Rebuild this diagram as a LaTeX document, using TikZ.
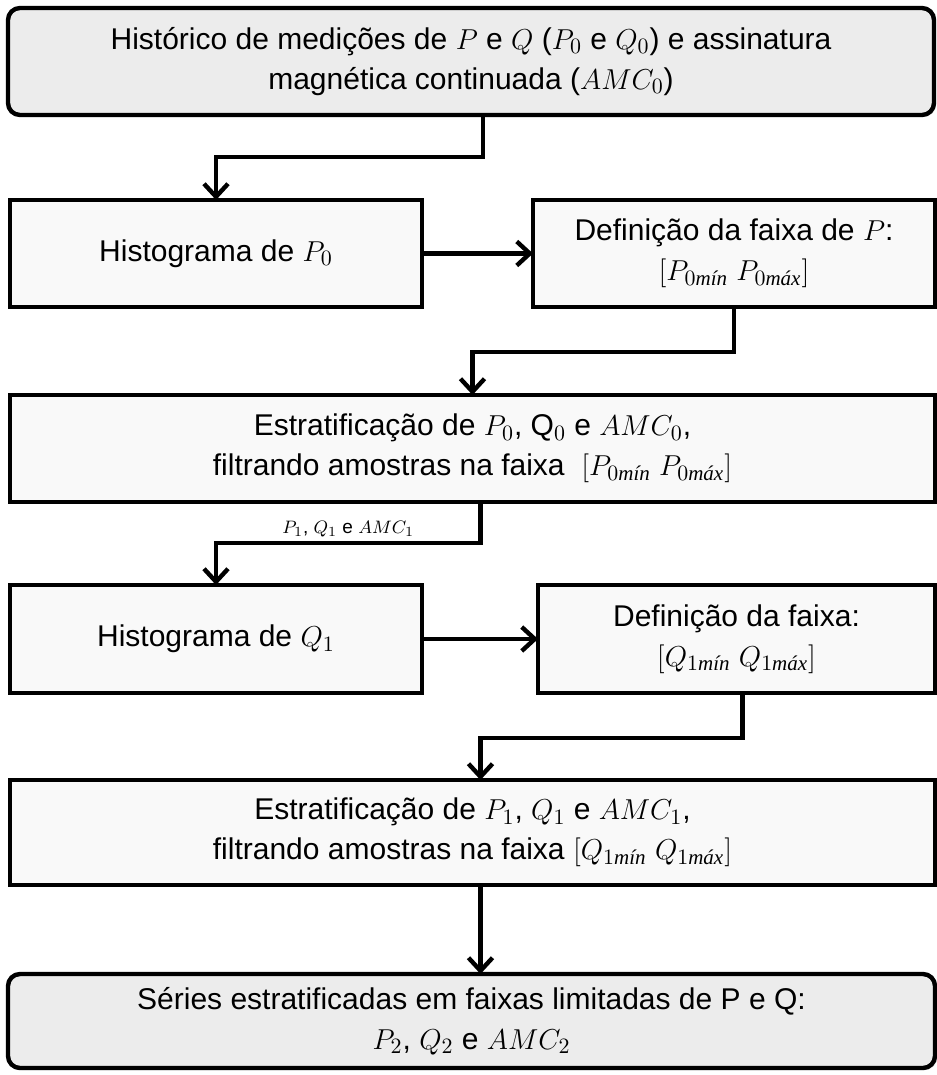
\documentclass[tikz,border=0pt]{standalone}
\usepackage{amsmath}
\usepackage{fontspec}
\setmainfont{Liberation Sans}
\newfontfamily\subfont{Liberation Serif}
\newcommand{\minsub}{\text{\subfont\itshape mín}}
\newcommand{\maxsub}{\text{\subfont\itshape máx}}
\usetikzlibrary{arrows.meta,positioning,shadows}

\begin{document}
\begin{tikzpicture}[
  x=1pt, y=1pt,
  font=\fontsize{15}{20}\selectfont,
  endbox/.style={draw, line width=2.2pt, rounded corners=6pt, fill=gray!15, align=center, inner sep=0pt, outer sep=0pt, minimum height=53.5pt, drop shadow={shadow xshift=1pt, shadow yshift=-1pt, opacity=0.2}},
  stepbox/.style={draw, line width=2.2pt, fill=gray!5, align=center, inner sep=0pt, outer sep=0pt, minimum height=53.5pt, drop shadow={shadow xshift=1pt, shadow yshift=-1pt, opacity=0.2}},
  arrow/.style={-{Straight Barb[length=6.5pt, width=12pt]}, line width=2.2pt},
  lbl/.style={font=\fontsize{9.5}{11}\selectfont, inner sep=2pt}
]
\useasboundingbox (0,0) rectangle (468,-537.5);

\node[endbox, minimum width=463pt] (history) at (235.5,-30.75) {Histórico de medições de $P$ e $Q$ ($P_0$ e $Q_0$) e assinatura\\magnética continuada ($AMC_0$)};
\node[stepbox, minimum width=206pt, below right=42.5pt and 1pt of history.south west] (histP) {Histograma de $P_0$};
\node[stepbox, minimum width=201pt, right=55.5pt of histP] (faixaP) {Definição da faixa de $P$:\\$[P_{0\minsub}\ P_{0\maxsub}]$};
\node[stepbox, minimum width=462.5pt, below right=44pt and 0pt of histP.south west] (estratP) {Estratificação de $P_0$, $\mathrm{Q}_0$ e $AMC_0$,\\filtrando amostras na faixa \ $[P_{0\minsub}\ P_{0\maxsub}]$};
\node[stepbox, minimum width=206pt, minimum height=54pt, below right=41.5pt and 0pt of estratP.south west] (histQ) {Histograma de $Q_1$};
\node[stepbox, minimum width=198.5pt, minimum height=54pt, right=58pt of histQ] (faixaQ) {Definição da faixa:\\$[Q_{1\minsub}\ Q_{1\maxsub}]$};
\node[stepbox, minimum width=462.5pt, minimum height=52.5pt, below right=43.5pt and 0pt of histQ.south west] (estratQ) {Estratificação de $P_1$, $Q_1$ e $AMC_1$,\\filtrando amostras na faixa $[Q_{1\minsub}\ Q_{1\maxsub}]$};
\node[endbox, minimum width=463.5pt, minimum height=47pt, below right=44.5pt and -1pt of estratQ.south west] (series) {Séries estratificadas em faixas limitadas de P e Q:\\$P_2$, $Q_2$ e $AMC_2$};

\draw[arrow] ([xshift=6pt]history.south) -- ++(0,-21pt) -| (histP.north);
\draw[arrow] (histP) -- (faixaP);
\draw[arrow] (faixaP.south) -- ++(0,-22.5pt) -| (estratP.north);
\draw[arrow] ([xshift=4pt]estratP.south) -- ++(0,-20.5pt) -| node[lbl, pos=0.25, above] {$P_1$, $Q_1$ e $AMC_1$} (histQ.north);
\draw[arrow] (histQ) -- (faixaQ);
\draw[arrow] ([xshift=3pt]faixaQ.south) -- ++(0,-22.5pt) -| ([xshift=4pt]estratQ.north);
\draw[arrow] ([xshift=4pt]estratQ.south) -- ([xshift=4pt]estratQ.south |- series.north);
\end{tikzpicture}
\end{document}
